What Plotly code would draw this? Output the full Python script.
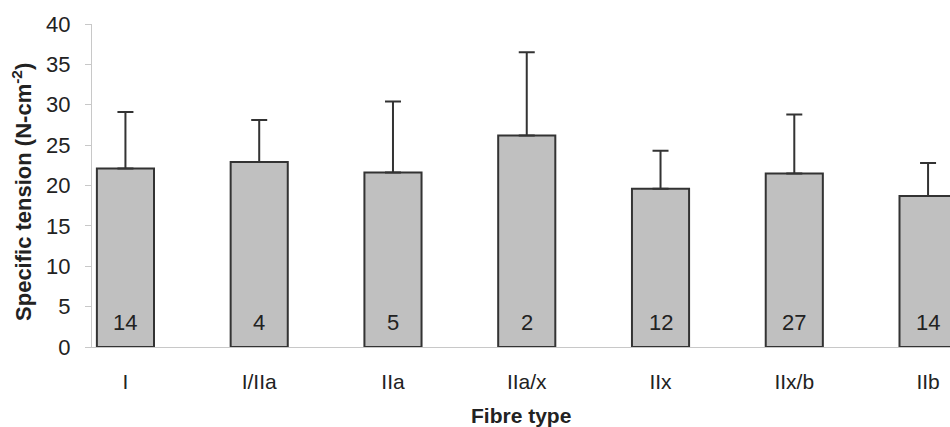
import plotly.graph_objects as go

# Mean specific tension per fibre type, with SD and number of fibres
fibre_types = ["I", "I/IIa", "IIa", "IIa/x", "IIx", "IIx/b", "IIb"]
tension_mean = [22.1, 22.9, 21.6, 26.2, 19.6, 21.5, 18.7]
tension_sd = [7.0, 5.2, 8.8, 10.3, 4.7, 7.3, 4.1]
fibre_counts = [14, 4, 5, 2, 12, 27, 14]
y_ticks = [0, 5, 10, 15, 20, 25, 30, 35, 40]

FONT = "Arial, Liberation Sans, sans-serif"
TEXT = "#222222"

fig = go.Figure()
fig.add_trace(go.Bar(
    x=list(range(len(fibre_types))),
    y=tension_mean,
    width=0.427,
    marker=dict(color="#c0c0c0", line=dict(color="#333333", width=2)),
    error_y=dict(type="data", array=tension_sd, symmetric=False,
                 arrayminus=[0] * len(tension_sd),
                 color="#333333", thickness=2, width=8),
    showlegend=False,
))

# Fibre counts written near the foot of each bar
for i, n in enumerate(fibre_counts):
    fig.add_annotation(x=i, y=3, text=str(n), showarrow=False,
                       font=dict(family=FONT, size=22, color=TEXT),
                       xanchor="center", yanchor="middle")

fig.add_annotation(xref="paper", yref="paper", x=0, y=0.48, xshift=-70,
                   text="<b>Specific tension (N-cm<sup>-2</sup>)</b>",
                   textangle=-90, showarrow=False,
                   font=dict(family=FONT, size=22, color=TEXT),
                   xanchor="center", yanchor="middle")
fig.add_annotation(xref="paper", yref="paper", x=0.5, y=0, yshift=-68,
                   text="<b>Fibre type</b>", showarrow=False,
                   font=dict(family=FONT, size=21, color=TEXT),
                   xanchor="center", yanchor="middle")

fig.update_layout(
    width=950, height=427,
    margin=dict(l=92, r=0, t=24, b=80),
    plot_bgcolor="white", paper_bgcolor="white",
    font=dict(family=FONT, size=22, color=TEXT),
    xaxis=dict(range=[-0.25, 6.164], tickmode="array",
               tickvals=list(range(len(fibre_types))), ticktext=fibre_types,
               showline=True, linecolor="#c8c8c8", linewidth=1,
               ticks="", ticklabelstandoff=16, showgrid=False, zeroline=False,
               tickfont=dict(family=FONT, size=21, color=TEXT)),
    yaxis=dict(range=[0, 40], tickvals=y_ticks,
               showline=True, linecolor="#c8c8c8", linewidth=1,
               ticks="outside", ticklen=6, tickcolor="#c8c8c8",
               ticklabelstandoff=10, showgrid=False, zeroline=False,
               tickfont=dict(family=FONT, size=22, color=TEXT)),
)

fig.write_html("out.html")
